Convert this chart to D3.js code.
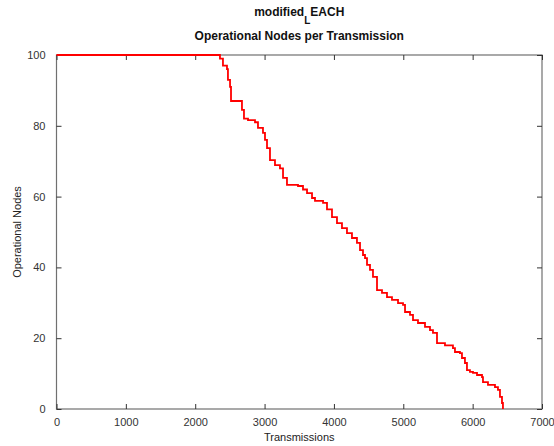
<!DOCTYPE html>
<html>
<head>
<meta charset="utf-8">
<script src="https://cdn.jsdelivr.net/npm/d3@7"></script>
<style>
  body { margin: 0; background: #fff; }
  text { font-family: "Liberation Sans", Arial, sans-serif; }
</style>
</head>
<body>
<svg id="chart"></svg>
<script>
// transmissions vs operational nodes
var transmissions = [0, 2314, 2357, 2400, 2458, 2472, 2502, 2516, 2646, 2674, 2703, 2761, 2862, 2905,
  2977, 3006, 3035, 3078, 3150, 3222, 3266, 3323, 3482, 3554, 3612, 3684, 3727, 3843, 3900, 3972,
  4044, 4116, 4188, 4260, 4332, 4376, 4419, 4448, 4477, 4520, 4563, 4621, 4693, 4765, 4837, 4924,
  4996, 5025, 5097, 5140, 5212, 5313, 5385, 5428, 5486, 5601, 5716, 5745, 5817, 5846, 5889, 5918,
  5961, 6005, 6063, 6135, 6149, 6221, 6322, 6365, 6394, 6423, 6437];
var nodes = [100, 100, 99, 97, 96, 93, 91, 87, 87, 84.5, 82, 81.6, 81, 79.4,
  78, 76, 73.7, 70.3, 68.9, 68, 65.3, 63.3, 63, 62, 61, 59.6, 58.8, 58.2, 56.4, 54.2,
  52.5, 51.1, 49.7, 48.3, 46.9, 44.9, 43.5, 42.6, 40.7, 39.3, 37.3, 33.6, 32.8, 31.6, 30.8, 29.9,
  29.4, 27.4, 26.6, 25.1, 24.3, 23.2, 22.3, 21.5, 18.6, 18, 17.2, 16.1, 15.8, 14.4, 13, 11,
  10.5, 10.2, 9.6, 9, 7.6, 6.8, 6.2, 5.4, 3.4, 1.7, 0];
var xTicks = [0, 1000, 2000, 3000, 4000, 5000, 6000, 7000];
var yTicks = [0, 20, 40, 60, 80, 100];

var width = 554, height = 446;
var mLeft = 56.5, mRight = 542, mTop = 55, mBottom = 409;

var svg = d3.select("#chart").attr("width", width).attr("height", height);

var x = d3.scaleLinear().domain([0, 7000]).range([mLeft, mRight]);
var y = d3.scaleLinear().domain([0, 100]).range([mBottom, mTop]);

// box
svg.append("rect")
  .attr("x", mLeft).attr("y", mTop)
  .attr("width", mRight - mLeft).attr("height", mBottom - mTop)
  .attr("fill", "none").attr("stroke", "#707070").attr("stroke-width", 1.2);

function styleAxis(g) {
  g.select(".domain").remove();
  g.selectAll(".tick line").attr("stroke", "#333");
  g.selectAll(".tick text").attr("fill", "#333").style("font-size", "11px");
}

svg.append("g")
  .attr("transform", "translate(0," + mBottom + ")")
  .call(d3.axisBottom(x).tickValues(xTicks).tickSize(-5).tickPadding(9).tickFormat(d3.format("d")))
  .call(styleAxis);
svg.append("g")
  .attr("transform", "translate(0," + mTop + ")")
  .call(d3.axisTop(x).tickValues(xTicks).tickSize(-5).tickFormat(""))
  .call(styleAxis);
svg.append("g")
  .attr("transform", "translate(" + mLeft + ",0)")
  .call(d3.axisLeft(y).tickValues(yTicks).tickSize(-5).tickPadding(11).tickFormat(d3.format("d")))
  .call(styleAxis);
svg.append("g")
  .attr("transform", "translate(" + mRight + ",0)")
  .call(d3.axisRight(y).tickValues(yTicks).tickSize(-5).tickFormat(""))
  .call(styleAxis);

var pts = transmissions.map(function(t, i) { return [t, nodes[i]]; });
var line = d3.line()
  .curve(d3.curveStepAfter)
  .x(function(d) { return x(d[0]); })
  .y(function(d) { return y(d[1]); });

svg.append("path")
  .datum(pts)
  .attr("d", line)
  .attr("fill", "none")
  .attr("stroke", "#ff0000")
  .attr("stroke-width", 1.8);

// labels
var cx = (mLeft + mRight) / 2;
var t1 = svg.append("text")
  .attr("x", cx).attr("y", 16)
  .attr("text-anchor", "middle")
  .style("font-size", "12px").style("font-weight", "bold").attr("fill", "#111");
t1.append("tspan").text("modified");
t1.append("tspan").attr("dy", 8).style("font-size", "10px").text("L");
t1.append("tspan").attr("dy", -8).text("EACH");

svg.append("text")
  .attr("x", cx).attr("y", 40)
  .attr("text-anchor", "middle")
  .style("font-size", "12px").style("font-weight", "bold").attr("fill", "#111")
  .text("Operational Nodes per Transmission");

svg.append("text")
  .attr("x", cx).attr("y", 441)
  .attr("text-anchor", "middle")
  .style("font-size", "11px").attr("fill", "#222")
  .text("Transmissions");

svg.append("text")
  .attr("transform", "translate(21," + ((mTop + mBottom) / 2) + ") rotate(-90)")
  .attr("text-anchor", "middle")
  .style("font-size", "11px").attr("fill", "#222")
  .text("Operational Nodes");
</script>
</body>
</html>
